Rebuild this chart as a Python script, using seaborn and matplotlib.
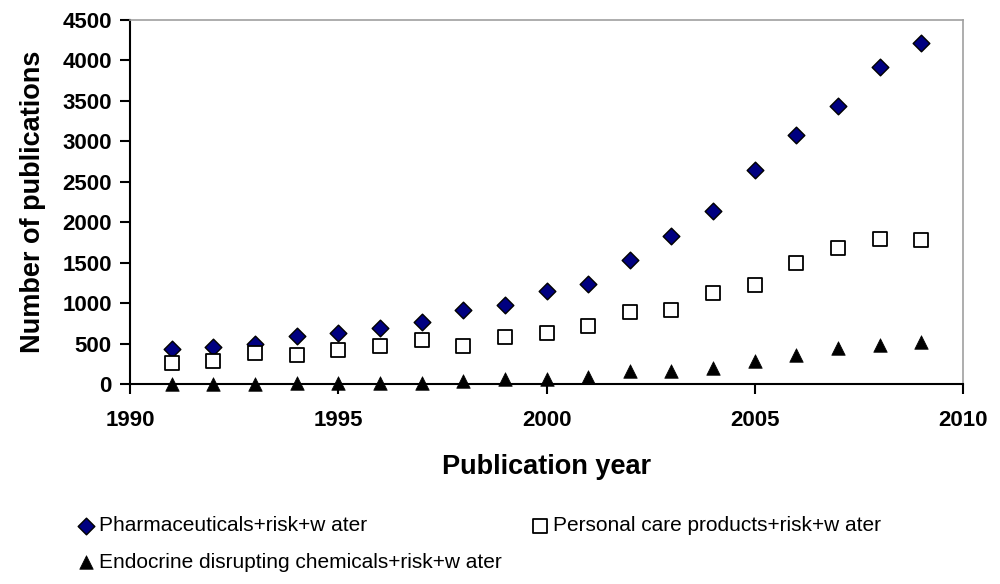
import matplotlib
matplotlib.use("Agg")
import matplotlib.pyplot as plt
import seaborn as sns
import pandas as pd

years = list(range(1991, 2010))
pharma = [430, 455, 500, 595, 625, 695, 765, 910, 980, 1150, 1240, 1535, 1825, 2135, 2645, 3080, 3440, 3920, 4210]
personal = [265, 285, 380, 355, 425, 470, 550, 470, 575, 625, 715, 885, 910, 1125, 1220, 1490, 1680, 1795, 1775]
endocrine = [0, 0, 0, 10, 10, 10, 10, 35, 60, 60, 85, 165, 165, 195, 285, 355, 450, 480, 520]

labels = ["Pharmaceuticals+risk+w ater",
          "Personal care products+risk+w ater",
          "Endocrine disrupting chemicals+risk+w ater"]

sns.set_theme(style="white")
plt.rcParams["font.family"] = ["Liberation Sans", "DejaVu Sans"]
plt.rcParams["text.color"] = "black"
plt.rcParams["axes.labelcolor"] = "black"
plt.rcParams["xtick.color"] = "black"
plt.rcParams["ytick.color"] = "black"

fig = plt.figure(figsize=(10, 5.84), dpi=100)
ax = fig.add_axes([0.130, 1 - 384 / 584, 0.833, 364 / 584])

df_p = pd.DataFrame({"year": years, "n": pharma})
df_c = pd.DataFrame({"year": years, "n": personal})
df_e = pd.DataFrame({"year": years, "n": endocrine})

sns.scatterplot(data=df_p, x="year", y="n", marker="D", s=72, color="#000080",
                edgecolor="black", linewidth=1.0, ax=ax, label=labels[0], zorder=3, clip_on=False)
sns.scatterplot(data=df_c, x="year", y="n", marker="s", s=105, color="white",
                edgecolor="black", linewidth=1.3, ax=ax, label=labels[1], zorder=3, clip_on=False)
sns.scatterplot(data=df_e, x="year", y="n", marker="^", s=95, color="black",
                edgecolor="black", linewidth=0.5, ax=ax, label=labels[2], zorder=3, clip_on=False)

ax.set_xlim(1990, 2010)
ax.set_ylim(0, 4500)
ax.set_xticks(range(1990, 2011, 5))
ax.set_yticks(range(0, 4501, 500))

for side in ["left", "bottom"]:
    ax.spines[side].set_color("black")
    ax.spines[side].set_linewidth(1.5)
for side in ["top", "right"]:
    ax.spines[side].set_color("#a0a0a0")
    ax.spines[side].set_linewidth(1.2)

ax.tick_params(axis="both", which="major", direction="out", length=7, width=1.5,
               color="black", labelsize=16, left=True, bottom=True)
ax.tick_params(axis="y", pad=6)
ax.tick_params(axis="x", pad=12)
for lab in ax.get_xticklabels() + ax.get_yticklabels():
    lab.set_fontweight("bold")

ax.set_xlabel("Publication year", fontsize=19.5, fontweight="bold", labelpad=16)
ax.set_ylabel("Number of publications", fontsize=19.5, fontweight="bold", labelpad=12)

h, l = ax.get_legend_handles_labels()
order = [0, 2, 1]
leg = ax.legend([h[i] for i in order], [l[i] for i in order], ncol=2,
                loc="upper left", bbox_to_anchor=(76 / 1000, 1 - 516 / 584),
                bbox_transform=fig.transFigure, frameon=False, fontsize=15,
                handletextpad=0.1, columnspacing=1.35, labelspacing=0.85,
                handlelength=1.0, borderaxespad=0, borderpad=0)

fig.savefig("out.png", dpi=100)
